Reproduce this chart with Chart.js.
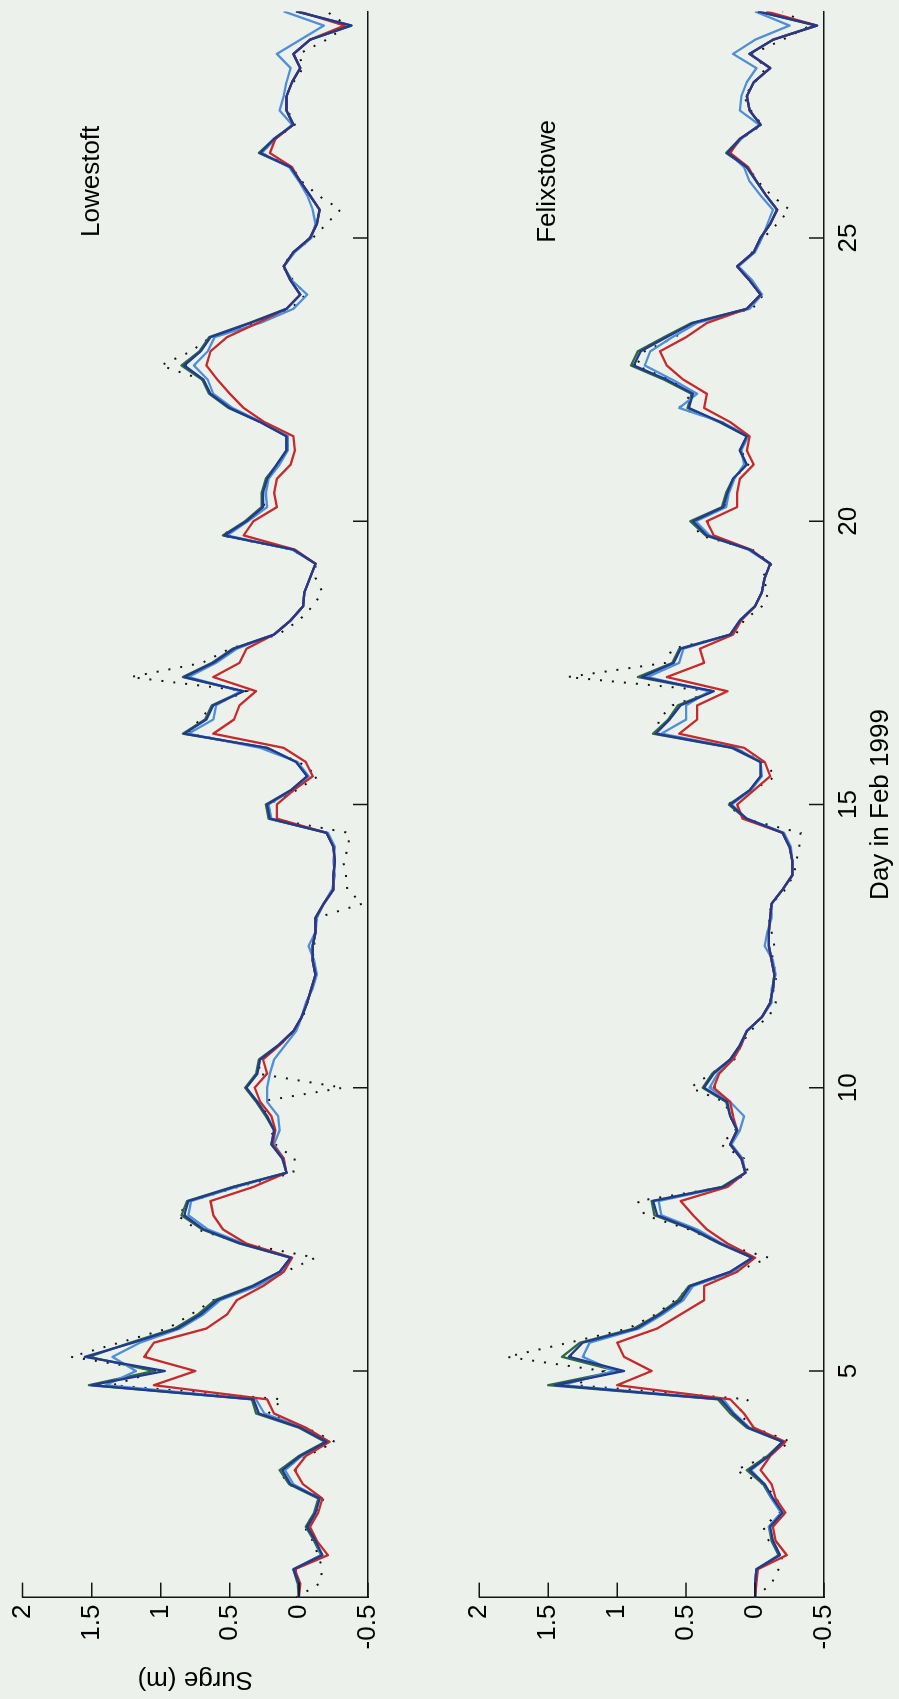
<!DOCTYPE html>
<html>
<head>
<meta charset="utf-8">
<script src="https://cdn.jsdelivr.net/npm/chart.js@4.4.1/dist/chart.umd.min.js"></script>
<style>
  html, body { margin: 0; padding: 0; background: #edf1ec; overflow: hidden; }
  /* the figure is drawn landscape and turned a quarter turn, like the printed page */
  #page { position: absolute; left: 0; top: 0; width: 1699px; height: 899px;
          transform-origin: 0 0; transform: translate(0, 1699px) rotate(-90deg); }
  #page canvas { position: absolute; left: 0; }
  #lowestoft { top: 0; }
  #felixstowe { top: 440px; }
</style>
</head>
<body>
<div id="page">
  <canvas id="lowestoft" width="1699" height="440"></canvas>
  <canvas id="felixstowe" width="1699" height="459"></canvas>
</div>
<script>
// day in Feb 1999, every 6 hours
const days = [
  1, 1.25, 1.5, 1.75, 2, 2.25, 2.5, 2.75, 3, 3.25, 3.5, 3.75, 4, 4.25, 4.5, 4.75,
  5, 5.25, 5.5, 5.75, 6, 6.25, 6.5, 6.75, 7, 7.25, 7.5, 7.75, 8, 8.25, 8.5, 8.75,
  9, 9.25, 9.5, 9.75, 10, 10.25, 10.5, 10.75, 11, 11.25, 11.5, 11.75, 12, 12.25, 12.5, 12.75,
  13, 13.25, 13.5, 13.75, 14, 14.25, 14.5, 14.75, 15, 15.25, 15.5, 15.75, 16, 16.25, 16.5, 16.75,
  17, 17.25, 17.5, 17.75, 18, 18.25, 18.5, 18.75, 19, 19.25, 19.5, 19.75, 20, 20.25, 20.5, 20.75,
  21, 21.25, 21.5, 21.75, 22, 22.25, 22.5, 22.75, 23, 23.25, 23.5, 23.75, 24, 24.25, 24.5, 24.75,
  25, 25.25, 25.5, 25.75, 26, 26.25, 26.5, 26.75, 27, 27.25, 27.5, 27.75, 28, 28.25, 28.5, 28.75,
  29
];
const dayTicks = [5, 10, 15, 20, 25];
const surgeTicks = [-0.5, 0, 0.5, 1, 1.5, 2];

// ---- Lowestoft surge (m), one row per day ----
const lowBlue = [
  0.00, 0.00, 0.04, -0.17,   -0.12, -0.06, -0.12, -0.15,   0.06, 0.12, -0.01, -0.20,
  -0.01, 0.29, 0.33, 1.50,   0.97, 1.55, 1.20, 0.88,   0.71, 0.59, 0.33, 0.14,
  0.06, 0.42, 0.69, 0.83,   0.80, 0.47, 0.09, 0.12,   0.20, 0.18, 0.23, 0.30,
  0.38, 0.30, 0.28, 0.15,   0.04, -0.02, -0.06, -0.09,   -0.12, -0.10, -0.10, -0.12,
  -0.12, -0.18, -0.25, -0.25,   -0.26, -0.25, -0.20, 0.21,   0.23, 0.06, -0.06, 0.02,
  0.23, 0.83, 0.67, 0.62,   0.40, 0.83, 0.62, 0.47,   0.18, 0.06, -0.03, -0.04,
  -0.08, -0.12, 0.04, 0.54,   0.38, 0.26, 0.26, 0.23,   0.16, 0.09, 0.09, 0.28,
  0.50, 0.64, 0.69, 0.83,   0.71, 0.64, 0.35, 0.09,   -0.01, 0.06, 0.11, 0.04,
  -0.08, -0.13, -0.15, -0.08,   -0.01, 0.06, 0.28, 0.18,   0.04, 0.09, 0.09, 0.05,
  -0.01, 0.04, -0.08, -0.38,   0.02
];
const lowGreen = [
  0.00, 0.01, 0.04, -0.16,   -0.11, -0.05, -0.11, -0.14,   0.07, 0.14, 0.00, -0.19,
  0.00, 0.31, 0.34, 1.52,   1.05, 1.52, 1.22, 0.90,   0.73, 0.61, 0.34, 0.14,
  0.06, 0.43, 0.70, 0.85,   0.81, 0.48, 0.09, 0.12,   0.20, 0.18, 0.24, 0.31,
  0.39, 0.31, 0.29, 0.15,   0.04, -0.02, -0.06, -0.09,   -0.12, -0.10, -0.10, -0.12,
  -0.12, -0.18, -0.25, -0.25,   -0.26, -0.25, -0.20, 0.22,   0.24, 0.06, -0.06, 0.02,
  0.23, 0.84, 0.68, 0.63,   0.41, 0.84, 0.63, 0.48,   0.18, 0.06, -0.03, -0.04,
  -0.08, -0.12, 0.04, 0.55,   0.39, 0.27, 0.27, 0.24,   0.16, 0.09, 0.09, 0.28,
  0.51, 0.65, 0.70, 0.85,   0.72, 0.65, 0.36, 0.09,   -0.01, 0.06, 0.11, 0.04,
  -0.08, -0.13, -0.15, -0.08,   -0.01, 0.06, 0.29, 0.18,   0.04, 0.09, 0.09, 0.05,
  -0.01, 0.04, -0.08, -0.38,   0.02
];
const lowLight = [
  0.00, 0.00, 0.03, -0.16,   -0.12, -0.07, -0.12, -0.15,   0.04, 0.10, -0.02, -0.22,
  -0.03, 0.25, 0.31, 1.40,   1.18, 1.35, 1.15, 0.86,   0.69, 0.57, 0.30, 0.12,
  0.05, 0.40, 0.66, 0.80,   0.78, 0.45, 0.09, 0.11,   0.18, 0.14, 0.15, 0.23,
  0.23, 0.21, 0.18, 0.10,   0.02, -0.02, -0.05, -0.10,   -0.13, -0.11, -0.07, -0.12,
  -0.13, -0.18, -0.24, -0.26,   -0.25, -0.26, -0.21, 0.20,   0.22, 0.05, -0.07, 0.01,
  0.28, 0.80, 0.62, 0.60,   0.42, 0.80, 0.60, 0.45,   0.18, 0.06, -0.03, -0.04,
  -0.08, -0.12, 0.05, 0.52,   0.37, 0.23, 0.24, 0.22,   0.14, 0.08, 0.08, 0.27,
  0.48, 0.62, 0.66, 0.76,   0.66, 0.61, 0.28, 0.04,   -0.06, 0.05, 0.11, 0.03,
  -0.09, -0.12, -0.10, -0.06,   0.00, 0.07, 0.27, 0.17,   0.05, 0.14, 0.11, 0.09,
  0.06, 0.16, -0.01, -0.18,   0.11
];
const lowRed = [
  0.00, -0.01, 0.03, -0.21,   -0.13, -0.08, -0.14, -0.17,   -0.03, 0.03, -0.05, -0.22,
  -0.05, 0.18, 0.23, 1.05,   0.75, 1.12, 1.05, 0.67,   0.52, 0.45, 0.26, 0.11,
  0.05, 0.38, 0.55, 0.62,   0.64, 0.33, 0.09, 0.11,   0.19, 0.17, 0.20, 0.28,
  0.32, 0.23, 0.26, 0.14,   0.04, -0.02, -0.06, -0.09,   -0.12, -0.10, -0.10, -0.12,
  -0.12, -0.18, -0.25, -0.25,   -0.26, -0.25, -0.20, 0.16,   0.16, 0.04, -0.10, -0.05,
  0.11, 0.62, 0.47, 0.43,   0.31, 0.62, 0.43, 0.38,   0.18, 0.06, -0.03, -0.04,
  -0.08, -0.12, 0.03, 0.40,   0.33, 0.16, 0.18, 0.16,   0.06, 0.03, 0.04, 0.25,
  0.40, 0.50, 0.59, 0.67,   0.64, 0.52, 0.30, 0.09,   -0.01, 0.06, 0.11, 0.04,
  -0.08, -0.13, -0.15, -0.08,   -0.01, 0.05, 0.21, 0.17,   0.04, 0.09, 0.09, 0.05,
  -0.01, 0.04, -0.08, -0.33,   0.00
];
const lowObs = [
  0.02, -0.15, -0.17, -0.14,   -0.10, -0.04, -0.12, -0.18,   0.08, 0.14, -0.06, -0.26,
  -0.05, 0.22, 0.12, 1.35,   1.02, 1.65, 1.30, 0.95,   0.78, 0.62, 0.30, 0.10,
  -0.12, 0.40, 0.74, 0.88,   0.78, 0.44, 0.04, 0.03,   0.17, 0.20, 0.22, 0.30,
  -0.32, 0.30, 0.27, 0.14,   0.03, -0.03, -0.06, -0.09,   -0.12, -0.10, -0.11, -0.12,
  -0.13, -0.46, -0.35, -0.34,   -0.32, -0.36, -0.36, 0.20,   0.22, 0.02, -0.14, 0.00,
  0.25, 0.80, 0.72, 0.62,   0.38, 1.22, 0.70, 0.50,   0.15, 0.00, -0.10, -0.17,
  -0.12, -0.12, 0.05, 0.56,   0.38, 0.25, 0.26, 0.23,   0.16, 0.09, 0.08, 0.28,
  0.50, 0.64, 0.70, 1.00,   0.78, 0.64, 0.33, 0.06,   -0.05, 0.04, 0.12, 0.04,
  -0.10, -0.20, -0.30, -0.14,   -0.02, 0.05, 0.27, 0.17,   0.03, 0.08, 0.10, 0.04,
  -0.03, 0.00, -0.20, -0.35,   -0.20
];

// ---- Felixstowe surge (m) ----
const felBlue = [
  0.00, 0.00, -0.01, -0.18,   -0.13, -0.11, -0.20, -0.13,   -0.07, 0.04, -0.10, -0.20,
  0.05, 0.16, 0.25, 1.45,   0.95, 1.35, 1.25, 0.86,   0.69, 0.54, 0.47, 0.18,
  0.02, 0.25, 0.45, 0.71,   0.74, 0.23, 0.07, 0.10,   0.18, 0.13, 0.18, 0.20,
  0.37, 0.30, 0.18, 0.11,   0.06, -0.05, -0.11, -0.13,   -0.14, -0.12, -0.10, -0.10,
  -0.11, -0.12, -0.20, -0.27,   -0.27, -0.25, -0.20, 0.06,   0.18, 0.04, -0.04, -0.04,
  0.16, 0.72, 0.62, 0.54,   0.30, 0.82, 0.59, 0.54,   0.18, 0.11, 0.00, -0.05,
  -0.07, -0.11, 0.04, 0.35,   0.45, 0.23, 0.20, 0.16,   0.06, 0.11, 0.06, 0.25,
  0.48, 0.45, 0.64, 0.88,   0.83, 0.64, 0.45, 0.06,   -0.04, 0.04, 0.13, 0.01,
  -0.04, -0.11, -0.16, -0.08,   -0.01, 0.06, 0.20, 0.11,   -0.04, 0.04, 0.06, 0.01,
  -0.11, 0.04, -0.13, -0.45,   -0.02
];
const felGreen = [
  0.00, 0.00, -0.01, -0.17,   -0.12, -0.10, -0.19, -0.12,   -0.06, 0.06, -0.09, -0.20,
  0.06, 0.18, 0.27, 1.50,   1.00, 1.40, 1.27, 0.88,   0.70, 0.56, 0.48, 0.18,
  0.02, 0.26, 0.46, 0.73,   0.75, 0.24, 0.07, 0.10,   0.18, 0.13, 0.18, 0.21,
  0.38, 0.31, 0.18, 0.11,   0.06, -0.05, -0.11, -0.13,   -0.14, -0.12, -0.10, -0.10,
  -0.11, -0.12, -0.20, -0.27,   -0.27, -0.25, -0.20, 0.07,   0.19, 0.04, -0.04, -0.04,
  0.17, 0.74, 0.63, 0.56,   0.31, 0.85, 0.60, 0.55,   0.18, 0.11, 0.00, -0.05,
  -0.07, -0.11, 0.04, 0.36,   0.47, 0.24, 0.21, 0.16,   0.06, 0.11, 0.06, 0.26,
  0.49, 0.46, 0.66, 0.90,   0.85, 0.66, 0.46, 0.06,   -0.04, 0.04, 0.13, 0.01,
  -0.04, -0.11, -0.16, -0.08,   -0.01, 0.06, 0.21, 0.11,   -0.04, 0.04, 0.06, 0.01,
  -0.11, 0.04, -0.13, -0.44,   -0.02
];
const felLight = [
  0.00, 0.00, -0.01, -0.18,   -0.13, -0.10, -0.19, -0.12,   -0.07, 0.03, -0.10, -0.21,
  0.04, 0.15, 0.23, 1.40,   1.02, 1.25, 1.20, 0.84,   0.67, 0.52, 0.45, 0.16,
  0.02, 0.24, 0.42, 0.68,   0.70, 0.22, 0.07, 0.09,   0.17, 0.11, 0.08, 0.18,
  0.33, 0.27, 0.16, 0.10,   0.06, -0.05, -0.12, -0.12,   -0.15, -0.13, -0.07, -0.09,
  -0.12, -0.12, -0.20, -0.27,   -0.27, -0.26, -0.21, 0.06,   0.17, 0.03, -0.05, -0.04,
  0.14, 0.68, 0.50, 0.50,   0.33, 0.78, 0.55, 0.52,   0.18, 0.11, 0.00, -0.05,
  -0.07, -0.11, 0.05, 0.33,   0.43, 0.21, 0.19, 0.15,   0.08, 0.10, 0.05, 0.24,
  0.55, 0.42, 0.60, 0.80,   0.76, 0.60, 0.42, 0.04,   -0.05, 0.02, 0.12, 0.00,
  -0.05, -0.09, -0.13, -0.04,   0.04, 0.08, 0.19, 0.10,   -0.03, 0.11, 0.10, 0.06,
  -0.01, 0.16, 0.00, -0.25,   0.00
];
const felRed = [
  0.00, -0.01, -0.02, -0.23,   -0.15, -0.13, -0.22, -0.15,   -0.12, -0.04, -0.11, -0.22,
  0.01, 0.08, 0.18, 1.00,   0.75, 0.95, 1.00, 0.71,   0.54, 0.37, 0.37, 0.13,
  0.00, 0.20, 0.35, 0.45,   0.54, 0.20, 0.07, 0.10,   0.18, 0.13, 0.16, 0.18,
  0.30, 0.26, 0.16, 0.10,   0.06, -0.05, -0.11, -0.13,   -0.14, -0.12, -0.10, -0.10,
  -0.11, -0.12, -0.20, -0.27,   -0.27, -0.25, -0.20, 0.09,   0.13, 0.01, -0.11, -0.07,
  0.08, 0.55, 0.42, 0.42,   0.20, 0.64, 0.37, 0.40,   0.16, 0.10, 0.00, -0.05,
  -0.07, -0.11, 0.03, 0.30,   0.35, 0.13, 0.13, 0.11,   0.01, 0.06, 0.04, 0.18,
  0.37, 0.35, 0.52, 0.64,   0.69, 0.50, 0.35, 0.06,   -0.04, 0.04, 0.13, 0.01,
  -0.04, -0.11, -0.16, -0.08,   -0.01, 0.05, 0.18, 0.11,   -0.04, 0.04, 0.06, 0.01,
  -0.11, 0.04, -0.13, -0.45,   -0.08
];
const felObs = [
  0.00, -0.12, -0.17, -0.20,   -0.10, -0.06, -0.18, -0.16,   -0.06, 0.14, -0.09, -0.26,
  0.01, 0.12, 0.05, 1.30,   1.10, 1.80, 1.35, 0.92,   0.72, 0.58, 0.46, 0.14,
  -0.10, 0.25, 0.48, 0.80,   0.85, 0.22, 0.05, 0.08,   0.25, 0.14, 0.18, 0.22,
  0.47, 0.32, 0.15, 0.10,   0.04, -0.10, -0.15, -0.13,   -0.16, -0.12, -0.14, -0.12,
  -0.10, -0.12, -0.22, -0.28,   -0.30, -0.32, -0.33, 0.08,   0.20, 0.02, -0.15, -0.06,
  0.15, 0.70, 0.70, 0.60,   0.30, 1.36, 0.65, 0.60,   0.14, 0.08, -0.05, -0.10,
  -0.05, -0.12, 0.02, 0.40,   0.45, 0.22, 0.20, 0.16,   0.05, 0.10, 0.05, 0.24,
  0.55, 0.46, 0.62, 0.86,   0.80, 0.58, 0.44, 0.02,   -0.06, 0.04, 0.12, 0.02,
  -0.06, -0.16, -0.25, -0.12,   -0.02, 0.05, 0.20, 0.10,   -0.05, 0.03, 0.08, 0.00,
  -0.08, 0.02, -0.20, -0.40,   -0.20
];

const FONT = '"Liberation Sans", Arial, Helvetica, sans-serif';

function pts(vals) {
  return days.map((d, i) => ({ x: d, y: vals[i] }));
}

function line(vals, color, order) {
  return { data: pts(vals), borderColor: color, borderWidth: 2.3, pointRadius: 0,
           tension: 0, borderJoinStyle: 'round', order: order };
}

// MATLAB style ticks pointing into the plot, plus the station name
const insideTicks = {
  id: 'insideTicks',
  afterDraw(chart, args, opts) {
    const ctx = chart.ctx;
    const xs = chart.scales.x, ys = chart.scales.y;
    ctx.save();
    ctx.strokeStyle = '#151515';
    ctx.lineWidth = 1.5;
    ctx.beginPath();
    dayTicks.forEach(v => {
      const px = xs.getPixelForValue(v);
      ctx.moveTo(px, xs.top);
      ctx.lineTo(px, xs.top - 15);
    });
    surgeTicks.forEach(v => {
      const py = ys.getPixelForValue(v);
      ctx.moveTo(ys.right, py);
      ctx.lineTo(ys.right + 15, py);
    });
    ctx.stroke();
    ctx.fillStyle = '#000';
    ctx.font = '26px ' + FONT;
    ctx.textAlign = 'center';
    ctx.textBaseline = 'middle';
    ctx.fillText(opts.station, xs.getPixelForValue(26), ys.getPixelForValue(1.5));
    ctx.restore();
  }
};

function makeChart(id, station, s, bottomPanel) {
  const ctx = document.getElementById(id).getContext('2d');
  return new Chart(ctx, {
    type: 'line',
    data: {
      datasets: [
        line(s.blue, '#1f3a8e', 1),
        line(s.red, '#c62a2b', 2),
        line(s.light, '#4f8fd8', 3),
        line(s.green, '#2e6a40', 4),
        { data: pts(s.obs), borderColor: '#111', borderWidth: 2, borderDash: [2, 10],
          pointRadius: 0, tension: 0, order: 5 }
      ]
    },
    plugins: [insideTicks],
    options: {
      responsive: false,
      devicePixelRatio: 1,
      animation: false,
      layout: { padding: { top: bottomPanel ? 39.3 : 20.7, right: 11.4, left: 0, bottom: 0 } },
      plugins: {
        legend: { display: false },
        tooltip: { enabled: false },
        insideTicks: { station: station }
      },
      scales: {
        x: {
          type: 'linear',
          min: 1,
          max: 29,
          afterBuildTicks: (scale) => { scale.ticks = dayTicks.map(v => ({ value: v })); },
          afterFit: (scale) => { scale.height = bottomPanel ? 75 : 72; },
          grid: { display: false, drawTicks: false },
          border: { display: true, color: '#151515', width: 1.5 },
          ticks: { display: bottomPanel, padding: 9, maxRotation: 0, color: '#000',
                   font: { size: 26, family: FONT } },
          title: { display: bottomPanel, text: 'Day in Feb 1999', color: '#000',
                   padding: { top: 0, bottom: 3 }, font: { size: 26, family: FONT } }
        },
        y: {
          min: -0.5,
          max: 2,
          afterBuildTicks: (scale) => { scale.ticks = surgeTicks.map(v => ({ value: v })); },
          afterFit: (scale) => { scale.width = 101.4; },
          grid: { display: false, drawTicks: false },
          border: { display: true, color: '#151515', width: 1.5 },
          ticks: { padding: 7, color: '#000', font: { size: 26, family: FONT },
                   callback: (v) => String(v) },
          title: { display: !bottomPanel, text: 'Surge (m)', color: '#000',
                   font: { size: 26, family: FONT } }
        }
      }
    }
  });
}

try {
  makeChart('lowestoft', 'Lowestoft',
    { blue: lowBlue, green: lowGreen, light: lowLight, red: lowRed, obs: lowObs }, false);
  makeChart('felixstowe', 'Felixstowe',
    { blue: felBlue, green: felGreen, light: felLight, red: felRed, obs: felObs }, true);
} catch (error) {
  console.log(error);
}
</script>
</body>
</html>
